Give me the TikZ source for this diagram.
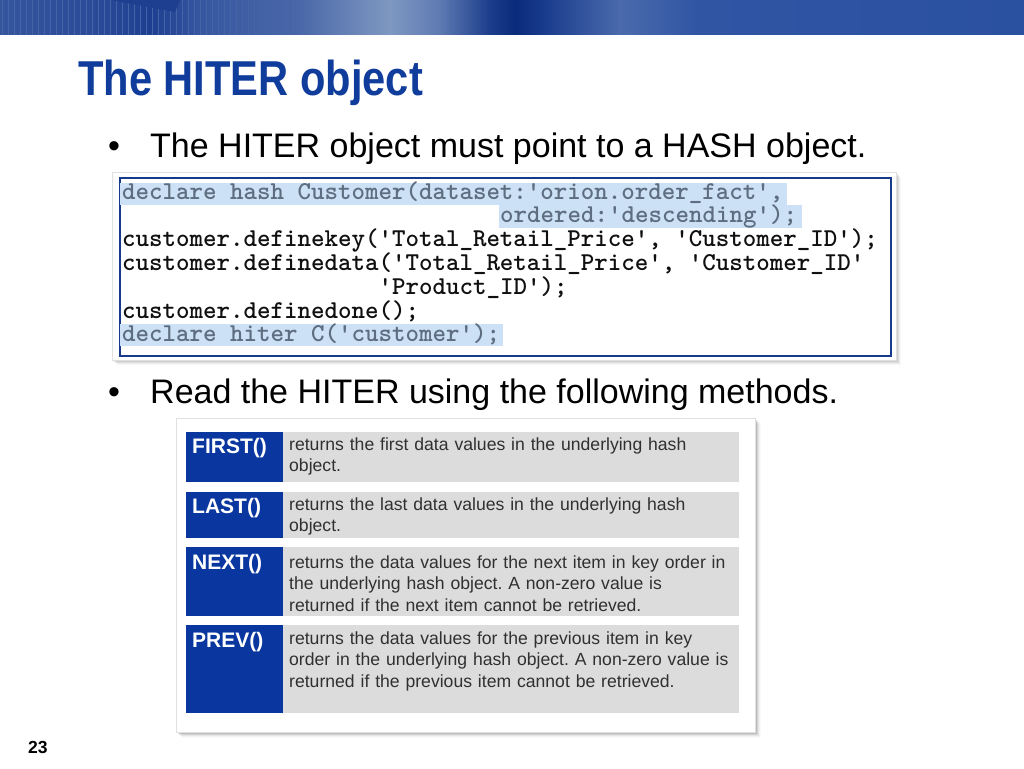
\documentclass[tikz,border=0pt]{standalone}
\usepackage{fontspec}
\setmainfont{Liberation Sans}
\usetikzlibrary{calc}
\definecolor{titleblue}{HTML}{103C9C}
\definecolor{cellnavy}{HTML}{0A36A0}
\definecolor{cellgray}{HTML}{DCDCDC}
\definecolor{hilite}{HTML}{CCE0F6}
\definecolor{codegray}{HTML}{5E6E80}
\definecolor{codeblack}{HTML}{101010}
\definecolor{framenavy}{HTML}{163A8C}
\definecolor{desctext}{HTML}{303030}
\definecolor{bn0}{HTML}{35559D}
\definecolor{bn1}{HTML}{2A4A98}
\definecolor{bn2}{HTML}{1E3E90}
\definecolor{bn3}{HTML}{3656A0}
\definecolor{bn4}{HTML}{4A68A8}
\definecolor{bn5}{HTML}{7F98C2}
\definecolor{bn6}{HTML}{5D7AB2}
\definecolor{bn7}{HTML}{1C3C8C}
\definecolor{bn8}{HTML}{0A2A7A}
\definecolor{bn9}{HTML}{1A3C8C}
\definecolor{bn10}{HTML}{4A6AAC}
\definecolor{bn11}{HTML}{2F55A3}
\definecolor{bn12}{HTML}{2A50A0}
\definecolor{stripe}{HTML}{4564A8}
\newcommand{\sq}{\char39\relax}
\begin{document}
\begin{tikzpicture}[x=1pt,y=-1pt,
  txt/.style={inner sep=0pt,anchor=base west},
  title/.style={txt,text=titleblue,font=\fontsize{49}{49}\selectfont\bfseries},
  bulletxt/.style={txt,text=black,font=\fontsize{34}{40}\selectfont},
  codeline/.style={txt,text=codeblack,font=\fontsize{25.7}{24}\selectfont\ttfamily\bfseries},
  codehl/.style={codeline,text=codegray},
  hlbox/.style={fill=hilite,draw=none},
  methodcell/.style={fill=cellnavy,draw=none},
  desccell/.style={fill=cellgray,draw=none},
  methodlbl/.style={txt,text=white,font=\fontsize{21}{22}\selectfont\bfseries},
  desclbl/.style={txt,text=desctext,text width=455pt,align=left,font=\fontsize{17.6}{21.5}\selectfont\frenchspacing},
]
\useasboundingbox (0,0) rectangle (1024,768);
\fill[white] (0,0) rectangle (1024,768);

% ---------- banner ----------
\foreach \xa/\xb/\ca/\cb in {0/100/bn0/bn1,100/150/bn1/bn2,150/200/bn2/bn3,200/300/bn3/bn4,300/390/bn4/bn5,390/440/bn5/bn6,440/490/bn6/bn7,490/515/bn7/bn8,515/545/bn8/bn9,545/620/bn9/bn10,620/700/bn10/bn11,700/1024/bn11/bn12}{
  \shade[left color=\ca,right color=\cb] (\xa-0.3,0) rectangle (\xb+0.3,35);}
\foreach \i in {2,8,...,290}{\draw[stripe,line width=0.8pt] (\i,0) -- (\i,35);}
\fill[bn2] (110,0) -- (180,0) -- (175,12) -- cycle;

% ---------- title ----------
\node[title] (ttl) at (78,95) {\scalebox{0.85}[1]{The HITER object}};

% ---------- bullet 1 ----------
\node[bulletxt] (b1dot) at (108,157) {•};
\node[bulletxt] (b1) at (150,157) {The HITER object must point to a HASH object.};

% ---------- code box ----------
\foreach \k/\o in {1/0.10,2/0.08,3/0.06,4/0.04,5/0.03}{
  \fill[black,opacity=\o] (112+\k,172+\k) rectangle (896+\k,360+\k);}
\node[draw=black!12,fill=white,line width=0.6pt,inner sep=0pt,minimum width=784pt,minimum height=188pt,anchor=north west] (codeouter) at (112,172) {};
\node[draw=framenavy,line width=2.4pt,inner sep=0pt,minimum width=771pt,minimum height=178pt,anchor=north west] (codeframe) at (118.5,176.5) {};

\fill[hlbox] (120,183) rectangle (787,205);
\fill[hlbox] (499,205) rectangle (802,228);
\fill[hlbox] (120,324) rectangle (503,346);

\node[codehl] (c1) at (122,199.0) {declare hash Customer(dataset:\sq orion.order\_fact\sq ,};
\node[codehl] (c2) at (500,222.8) {ordered:\sq descending\sq );};
\node[codeline] (c3) at (122,246.6) {customer.definekey(\sq Total\_Retail\_Price\sq , \sq Customer\_ID\sq );};
\node[codeline] (c4) at (122,270.4) {customer.definedata(\sq Total\_Retail\_Price\sq , \sq Customer\_ID\sq};
\node[codeline] (c5) at (378.5,294.2) {\sq Product\_ID\sq );};
\node[codeline] (c6) at (122,318.0) {customer.definedone();};
\node[codehl] (c7) at (122,341.8) {declare hiter C(\sq customer\sq );};

% ---------- bullet 2 ----------
\node[bulletxt] (b2dot) at (108,403) {•};
\node[bulletxt] (b2) at (150,403) {Read the HITER using the following methods.};

% ---------- methods table ----------
\foreach \k/\o in {1/0.12,2/0.10,3/0.08,4/0.05,5/0.03,6/0.02}{
  \fill[black,opacity=\o] (176+\k,418+\k) rectangle (755+\k,732+\k);}
\node[draw=black!12,fill=white,line width=0.6pt,inner sep=0pt,minimum width=579pt,minimum height=314pt,anchor=north west] (tbl) at (176,418) {};

\fill[methodcell] (186,432) rectangle (283,482);
\fill[desccell] (283,432) rectangle (739,482);
\fill[methodcell] (186,492) rectangle (283,538);
\fill[desccell] (283,492) rectangle (739,538);
\fill[methodcell] (186,547) rectangle (283,616);
\fill[desccell] (283,547) rectangle (739,616);
\fill[methodcell] (186,625) rectangle (283,713);
\fill[desccell] (283,625) rectangle (739,713);

\node[methodlbl] (m1) at (192,453) {FIRST()};
\node[methodlbl] (m2) at (192,513) {LAST()};
\node[methodlbl] (m3) at (192,569) {NEXT()};
\node[methodlbl] (m4) at (192,647) {PREV()};

\node[desclbl] (d1) at (289,450) {returns the first data values in the underlying hash\\object.};
\node[desclbl] (d2) at (289,510) {returns the last data values in the underlying hash\\object.};
\node[desclbl] (d3) at (289,568) {returns the data values for the next item in key order in\\the underlying hash object. A non-zero value is\\returned if the next item cannot be retrieved.};
\node[desclbl] (d4) at (289,644) {returns the data values for the previous item in key\\order in the underlying hash object. A non-zero value is\\returned if the previous item cannot be retrieved.};

% ---------- page number ----------
\node[txt,font=\fontsize{17.5}{20}\selectfont\bfseries] (pg) at (28,753) {23};
\end{tikzpicture}
\end{document}
